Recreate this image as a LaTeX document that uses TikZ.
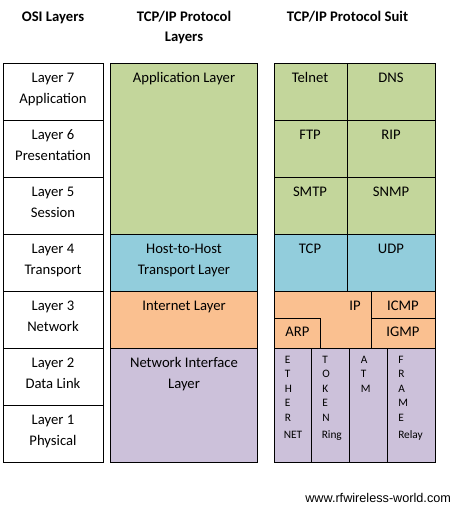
\documentclass[tikz,border=0pt]{standalone}
\usepackage{fontspec}
\setmainfont{Carlito}
\newfontfamily\wmfont{Liberation Sans}
\definecolor{cgreen}{HTML}{C3D69B}
\definecolor{cblue}{HTML}{92CDDC}
\definecolor{corange}{HTML}{FAC090}
\definecolor{cpurple}{HTML}{CCC1DA}
\begin{document}
\begin{tikzpicture}[x=0.75pt,y=-0.75pt,
  cell/.style={draw=black,line width=0.75pt},
  lbl/.style={anchor=base,inner sep=0pt,font=\fontsize{11}{13}\selectfont},
  hdr/.style={anchor=base,inner sep=0pt,font=\fontsize{11}{13}\selectfont\bfseries},
  small/.style={anchor=base west,inner sep=0pt,font=\fontsize{8.5}{10}\selectfont},
  wm/.style={anchor=base west,inner sep=0pt,font=\wmfont\fontsize{9.5}{11}\selectfont}]
\fill[white] (0,0) rectangle (458,508);
\useasboundingbox (0,0) rectangle (458,508);
% headers
\node[hdr] (h1) at (53,21) {OSI Layers};
\node[hdr] (h2a) at (184,21) {TCP/IP Protocol};
\node[hdr] (h2b) at (184,41.5) {Layers};
\node[hdr] (h3) at (347.5,21) {TCP/IP Protocol Suit};
% OSI column
\foreach \i/\name [count=\k from 0] in {7/Application,6/Presentation,5/Session,4/Transport,3/Network,2/Data Link,1/Physical}{
  \pgfmathsetmacro{\top}{63+57*\k}
  \draw[cell,fill=white] (3,\top) rectangle (103,\top+57);
  \node[lbl] (osi\i a) at (53,\top+19) {Layer \i};
  \node[lbl] (osi\i b) at (53,\top+40) {\name};
}
% TCP/IP layers column
\draw[cell,fill=cgreen] (110,63) rectangle (257,234);
\draw[cell,fill=cblue] (110,234) rectangle (257,291);
\draw[cell,fill=corange] (110,291) rectangle (257,348);
\draw[cell,fill=cpurple] (110,348) rectangle (257,462);
\node[lbl] (app) at (184,82) {Application Layer};
\node[lbl] (hth) at (184,253) {Host-to-Host};
\node[lbl] (tl) at (184,274) {Transport Layer};
\node[lbl] (inet) at (184,310) {Internet Layer};
\node[lbl] (nia) at (184,367) {Network Interface};
\node[lbl] (nib) at (184,388) {Layer};
% protocol suite column
\foreach \k in {0,1,2}{
  \pgfmathsetmacro{\top}{63+57*\k}
  \draw[cell,fill=cgreen] (274,\top) rectangle (347,\top+57);
  \draw[cell,fill=cgreen] (347,\top) rectangle (435,\top+57);
}
\node[lbl] (telnet) at (310,82) {Telnet};
\node[lbl] (dns) at (391,82) {DNS};
\node[lbl] (ftp) at (310,139) {FTP};
\node[lbl] (rip) at (391,139) {RIP};
\node[lbl] (smtp) at (310,196) {SMTP};
\node[lbl] (snmp) at (391,196) {SNMP};
\draw[cell,fill=cblue] (274,234) rectangle (347,291);
\draw[cell,fill=cblue] (347,234) rectangle (435,291);
\node[lbl] (tcp) at (310,253) {TCP};
\node[lbl] (udp) at (391,253) {UDP};
\draw[cell,fill=corange] (274,291) rectangle (435,348);
\draw[cell] (371,291) -- (371,348);
\draw[cell] (371,318.5) -- (435,318.5);
\draw[cell] (274,318.5) -- (320.5,318.5) -- (320.5,348);
\node[lbl] (ip) at (355,310) {IP};
\node[lbl] (icmp) at (403,310) {ICMP};
\node[lbl] (igmp) at (403,336) {IGMP};
\node[lbl] (arp) at (297.5,336) {ARP};
\draw[cell,fill=cpurple] (274,348) rectangle (311.5,462);
\draw[cell,fill=cpurple] (311.5,348) rectangle (349.5,462);
\draw[cell,fill=cpurple] (349.5,348) rectangle (387.5,462);
\draw[cell,fill=cpurple] (387.5,348) rectangle (435,462);
\foreach \c [count=\j from 0] in {E,T,H,E,R}{
  \node[small] (eth\j) at (284.5,363+14.6*\j) {\c};
}
\node[small] (ethnet) at (283.5,438.5) {NET};
\foreach \c [count=\j from 0] in {T,O,K,E,N}{
  \node[small] (tok\j) at (322,363+14.6*\j) {\c};
}
\node[small] (tokring) at (321.5,438.5) {Ring};
\foreach \c [count=\j from 0] in {A,T,M}{
  \node[small] (atm\j) at (360.5,363+14.6*\j) {\c};
}
\foreach \c [count=\j from 0] in {F,R,A,M,E}{
  \node[small] (fr\j) at (398,363+14.6*\j) {\c};
}
\node[small] (frrelay) at (398,438.5) {Relay};
\node[wm] (web) at (305,502) {www.rfwireless-world.com};
\end{tikzpicture}
\end{document}
